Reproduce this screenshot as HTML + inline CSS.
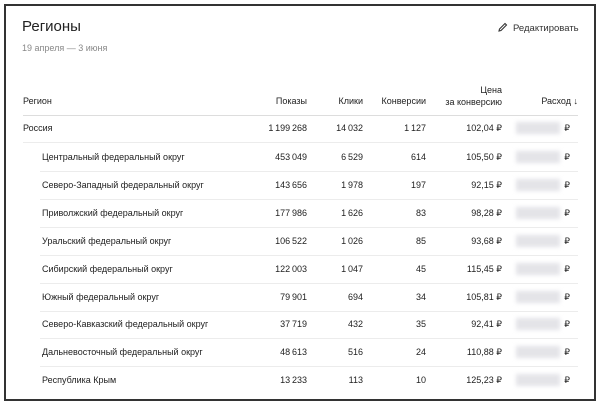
<!DOCTYPE html>
<html><head><meta charset="utf-8"><style>
body{margin:0;width:600px;height:409px;background:#fff;font-family:"Liberation Sans",sans-serif;position:relative;overflow:hidden;color:#222}
.frame{position:absolute;left:4px;top:4px;width:588px;height:393px;border:2px solid #333}
.t{position:absolute;white-space:nowrap;font-size:9px}
.r{text-align:right}
.line{position:absolute;height:1px;background:#ececec;right:22px}
.blur{position:absolute;width:44px;height:12px;background:#e4e4e8;filter:blur(2px)}
</style></head><body>
<div class="frame"></div>
<div class="t" style="left:22px;top:18px;font-size:15px;color:#222">Регионы</div>
<div class="t" style="left:22px;top:43px;font-size:9px;color:#888">19 апреля — 3 июня</div>
<div class="t" style="left:497px;top:22px;font-size:9.5px;color:#333"><svg width="11" height="11" viewBox="0 0 11 11" style="vertical-align:-2px;margin-right:5px"><path d="M2 9 L2.5 7 L8 1.5 L9.5 3 L4 8.5 Z" fill="none" stroke="#333" stroke-width="1.1"/></svg>Редактировать</div>
<div class="t" style="left:23px;top:96px">Регион</div>
<div class="t r" style="right:293px;top:96px">Показы</div>
<div class="t r" style="right:237px;top:96px">Клики</div>
<div class="t r" style="right:174px;top:96px">Конверсии</div>
<div class="t r" style="right:98px;top:84px;line-height:12px">Цена<br>за конверсию</div>
<div class="t r" style="right:22px;top:96px">Расход ↓</div>
<div class="line" style="left:23px;top:115px;background:#ddd"></div>
<div id="rows"></div>
<script>
var d=[["Россия","1 199 268","14 032","1 127","102,04 ₽"],
["Центральный федеральный округ","453 049","6 529","614","105,50 ₽"],
["Северо-Западный федеральный округ","143 656","1 978","197","92,15 ₽"],
["Приволжский федеральный округ","177 986","1 626","83","98,28 ₽"],
["Уральский федеральный округ","106 522","1 026","85","93,68 ₽"],
["Сибирский федеральный округ","122 003","1 047","45","115,45 ₽"],
["Южный федеральный округ","79 901","694","34","105,81 ₽"],
["Северо-Кавказский федеральный округ","37 719","432","35","92,41 ₽"],
["Дальневосточный федеральный округ","48 613","516","24","110,88 ₽"],
["Республика Крым","13 233","113","10","125,23 ₽"]];
function s(x){return x.replace(/ (\d)/g,"\u2009$1");}
var h="";
for(var i=0;i<d.length;i++){var y=i==0?123:152+(i-1)*27.9;var r=d[i];
h+='<div class="t" style="left:'+(i?42:23)+'px;top:'+y+'px">'+r[0]+'</div>';
h+='<div class="t r" style="right:293px;top:'+y+'px">'+s(r[1])+'</div>';
h+='<div class="t r" style="right:237px;top:'+y+'px">'+s(r[2])+'</div>';
h+='<div class="t r" style="right:174px;top:'+y+'px">'+s(r[3])+'</div>';
h+='<div class="t r" style="right:98px;top:'+y+'px">'+r[4]+'</div>';
h+='<div class="blur" style="left:516px;top:'+(y-1)+'px"></div>';
h+='<div class="t r" style="right:30px;top:'+y+'px">₽</div>';
if(i<d.length-1)h+='<div class="line" style="left:'+(i==0?23:40)+'px;top:'+(y+19)+'px"></div>';}
document.getElementById("rows").innerHTML=h;
</script>
</body></html>
